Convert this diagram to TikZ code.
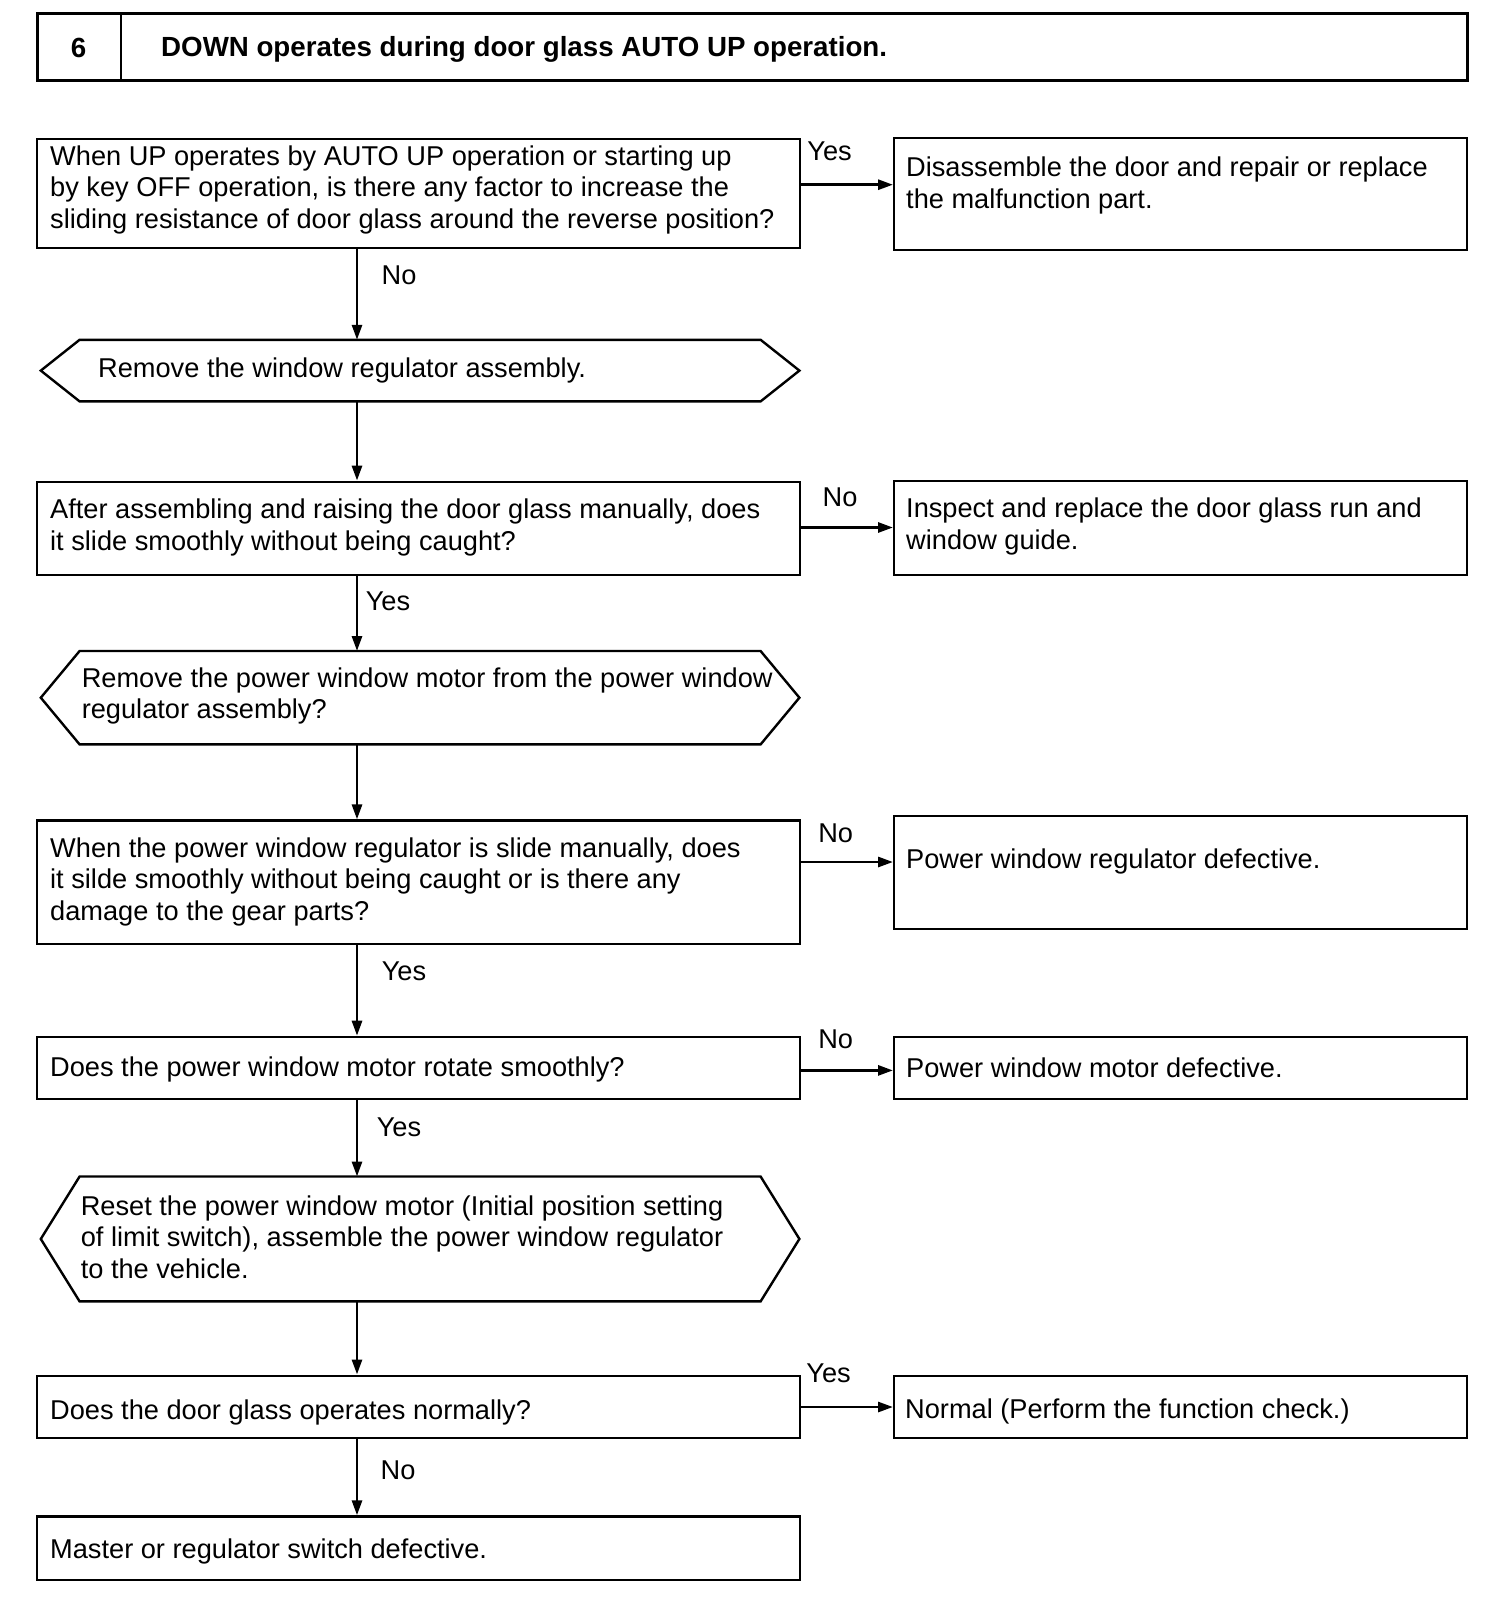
\documentclass[tikz,border=0pt]{standalone}
\usepackage{fontspec}
\setmainfont{Liberation Sans}
\usetikzlibrary{calc,arrows.meta}
\tikzset{
  boxshape/.style={draw, line width=2.4pt, inner sep=0, anchor=north west},
  titleshape/.style={draw, line width=2.8pt, inner sep=0, anchor=north west},
  hexbb/.style={draw=none, inner sep=0, anchor=north west},
  hexline/.style={line width=2.4pt, line join=miter},
  txt/.style={anchor=west, align=left, inner sep=0, font=\fontsize{27.2}{31.5}\selectfont},
  lbl/.style={inner sep=0, font=\fontsize{27.2}{31.5}\selectfont},
  arr/.style={line width=2.8pt, -{Triangle[length=15pt,width=10pt]}},
}
\newcommand\hexdraw[2]{\draw[hexline] (#1.west) -- ($(#1.north west)+(#2,0)$) -- ($(#1.north east)+(-#2,0)$) -- (#1.east) -- ($(#1.south east)+(-#2,0)$) -- ($(#1.south west)+(#2,0)$) -- cycle;}
\begin{document}
\begin{tikzpicture}[x=1pt,y=-1pt]
\useasboundingbox[fill=white] (0,0) rectangle (1504,1600);
% title
\node[titleshape, minimum width=1430.3, minimum height=67] (title) at (35.7,12.5) {};
\coordinate (div) at (121,0);
\draw[line width=2.8pt] (title.north -| div) -- (title.south -| div);
\node[lbl, font=\fontsize{27.7}{31.5}\selectfont\bfseries] (num) at (78.6,48) {6};
\node[txt, font=\fontsize{27.7}{31.5}\selectfont\bfseries] (ttl) at (161,49) {DOWN operates during door glass AUTO UP operation.};
\coordinate (spine) at (357,0);
% box 1
\node[boxshape, minimum width=763.3, minimum height=109.2] (b1) at (35.7,137.8) {};
\node[txt] (t1) at (50,189.5) {When UP operates by AUTO UP operation or starting up\\by key OFF operation, is there any factor to increase the\\sliding resistance of door glass around the reverse position?};
\node[boxshape, minimum width=573, minimum height=112.3] (r1) at (893,136.7) {};
\node[txt] (rt1) at (906,185.5) {Disassemble the door and repair or replace\\the malfunction part.};
\coordinate (a1) at (0,184.7);
\draw[arr] (b1.east |- a1) -- (r1.west |- a1);
\node[lbl] (y1) at (829.6,151) {Yes};
\node[lbl] (n1) at (399,275.5) {No};
% hex 1
\node[hexbb, minimum width=758.2, minimum height=61.2] (h1) at (40.8,339.8) {};
\hexdraw{h1}{38.8}
\node[txt] (ht1) at (98,370) {Remove the window regulator assembly.};
\draw[arr] (b1.south -| spine) -- (h1.north -| spine);
% box 2
\node[boxshape, minimum width=763.3, minimum height=92.9] (b2) at (35.7,480.6) {};
\node[txt] (t2) at (50,527.5) {After assembling and raising the door glass manually, does\\it slide smoothly without being caught?};
\draw[arr] (h1.south -| spine) -- (b2.north -| spine);
\node[boxshape, minimum width=573, minimum height=94] (r2) at (893,479.6) {};
\node[txt] (rt2) at (906,526.5) {Inspect and replace the door glass run and\\window guide.};
\coordinate (a2) at (0,527.5);
\draw[arr] (b2.east |- a2) -- (r2.west |- a2);
\node[lbl] (n2) at (840,497) {No};
\node[lbl] (y2) at (388,601) {Yes};
% hex 2
\node[hexbb, minimum width=758.2, minimum height=93] (h2) at (40.8,651) {};
\hexdraw{h2}{38.8}
\node[txt] (ht2) at (81.6,696) {Remove the power window motor from the power window\\regulator assembly?};
\draw[arr] (b2.south -| spine) -- (h2.north -| spine);
% box 3
\node[boxshape, minimum width=763.3, minimum height=123.6] (b3) at (35.7,819.4) {};
\node[txt] (t3) at (50,881.5) {When the power window regulator is slide manually, does\\it silde smoothly without being caught or is there any\\damage to the gear parts?};
\draw[arr] (h2.south -| spine) -- (b3.north -| spine);
\node[boxshape, minimum width=573, minimum height=112.6] (r3) at (893,815) {};
\node[txt] (rt3) at (906,861) {Power window regulator defective.};
\coordinate (a3) at (0,862);
\draw[arr] (b3.east |- a3) -- (r3.west |- a3);
\node[lbl] (n3) at (835.7,833.7) {No};
\node[lbl] (y3) at (404,971) {Yes};
% box 4
\node[boxshape, minimum width=763.3, minimum height=62.3] (b4) at (35.7,1035.7) {};
\node[txt] (t4) at (50,1069) {Does the power window motor rotate smoothly?};
\draw[arr] (b3.south -| spine) -- (b4.north -| spine);
\node[boxshape, minimum width=573, minimum height=62.3] (r4) at (893,1035.7) {};
\node[txt] (rt4) at (906,1068) {Power window motor defective.};
\coordinate (a4) at (0,1070.4);
\draw[arr] (b4.east |- a4) -- (r4.west |- a4);
\node[lbl] (n4) at (835.7,1038.8) {No};
\node[lbl] (y4) at (399,1127.5) {Yes};
% hex 3
\node[hexbb, minimum width=758.2, minimum height=124.5] (h3) at (40.8,1176.5) {};
\hexdraw{h3}{38.8}
\node[txt] (ht3) at (80.6,1237) {Reset the power window motor (Initial position setting\\of limit switch), assemble the power window regulator\\to the vehicle.};
\draw[arr] (b4.south -| spine) -- (h3.north -| spine);
% box 5
\node[boxshape, minimum width=763.3, minimum height=62.5] (b5) at (35.7,1374.5) {};
\node[txt] (t5) at (50,1412) {Does the door glass operates normally?};
\draw[arr] (h3.south -| spine) -- (b5.north -| spine);
\node[boxshape, minimum width=573, minimum height=62.5] (r5) at (893,1374.5) {};
\node[txt] (rt5) at (905,1411) {Normal (Perform the function check.)};
\coordinate (a5) at (0,1407);
\draw[arr] (b5.east |- a5) -- (r5.west |- a5);
\node[lbl] (y5) at (828.6,1373.4) {Yes};
\node[lbl] (n5) at (398,1470) {No};
% box 6
\node[boxshape, minimum width=763.3, minimum height=63.3] (b6) at (35.7,1515.3) {};
\node[txt] (t6) at (50,1551) {Master or regulator switch defective.};
\draw[arr] (b5.south -| spine) -- (b6.north -| spine);
\end{tikzpicture}
\end{document}
